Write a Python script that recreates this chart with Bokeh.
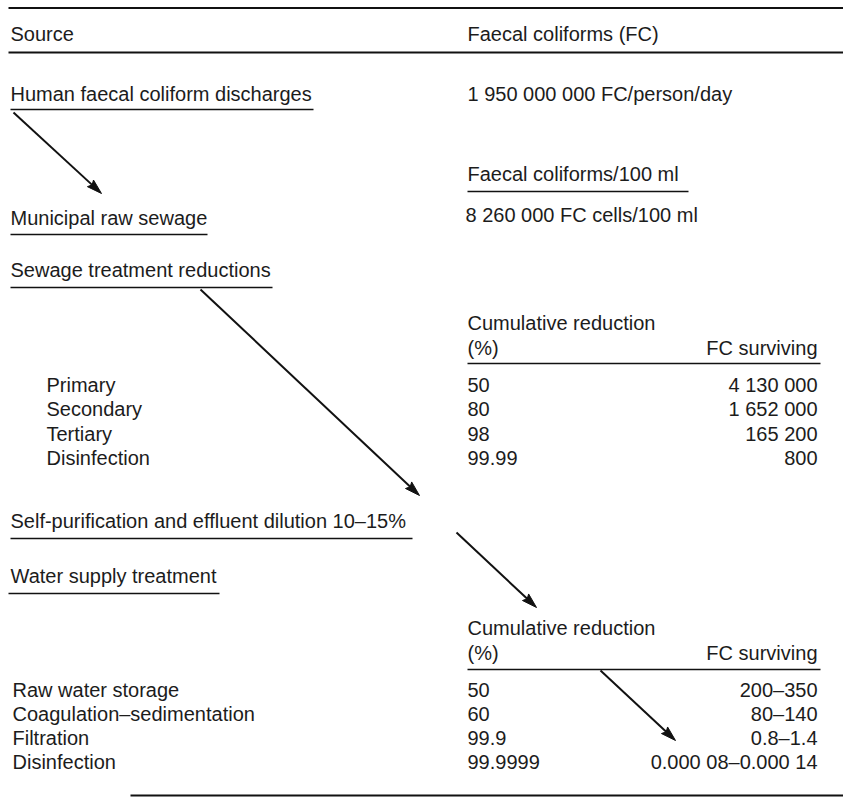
import math
from bokeh.plotting import figure
from bokeh.models import Range1d
from bokeh.core.properties import value
from bokeh.embed import file_html
from bokeh.resources import INLINE

# ---------------- data ----------------
header_labels = ["Source", "Faecal coliforms (FC)"]
source_label = "Human faecal coliform discharges"
source_value = "1 950 000 000 FC/person/day"
unit_label = "Faecal coliforms/100 ml"
sewage_label = "Municipal raw sewage"
sewage_value = "8 260 000 FC cells/100 ml"
sewage_treat_label = "Sewage treatment reductions"
col_head_left = ["Cumulative reduction", "(%)"]
col_head_right = "FC surviving"
sewage_stages = ["Primary", "Secondary", "Tertiary", "Disinfection"]
sewage_reduction = ["50", "80", "98", "99.99"]
sewage_surviving = ["4 130 000", "1 652 000", "165 200", "800"]
dilution_label = "Self-purification and effluent dilution 10\u201315%"
water_label = "Water supply treatment"
water_stages = ["Raw water storage", "Coagulation\u2013sedimentation", "Filtration", "Disinfection"]
water_reduction = ["50", "60", "99.9", "99.9999"]
water_surviving = ["200\u2013350", "80\u2013140", "0.8\u20131.4", "0.000 08\u20130.000 14"]

# ---------------- layout ----------------
FONT = "Liberation Sans"
FS = "20px"
TC = "#1c1c1c"
XL, XIND, XW, XC2, XR = 10, 46, 12, 467, 817
sew_rows = [384, 408.5, 433, 457.5]
wat_rows = [689, 713, 737, 761]
W_PX, H_PX = 843, 799

p = figure(width=W_PX, height=H_PX, x_range=Range1d(0, W_PX), y_range=Range1d(H_PX, 0),
           output_backend="svg", toolbar_location=None, min_border=0,
           x_axis_location=None, y_axis_location=None, title=None)
p.grid.visible = False
p.outline_line_color = None
p.background_fill_color = "white"
p.border_fill_color = "white"


def txt(xs, ys, texts, align="left"):
    p.text(x=xs, y=ys, text=texts, text_font=value(FONT), text_font_size=FS,
           text_baseline="middle", text_align=align, text_color=TC)


# left-aligned texts
txt([XL, XC2], [33, 33], header_labels)
txt([XL, XC2], [93, 93], [source_label, source_value])
txt([XC2], [173], [unit_label])
txt([XL, XC2 - 2], [217, 214], [sewage_label, sewage_value])
txt([XL], [269], [sewage_treat_label])
txt([XC2, XC2], [322, 347], col_head_left)
txt([XR], [347], [col_head_right], align="right")
txt([XIND] * 4, sew_rows, sewage_stages)
txt([XC2] * 4, sew_rows, sewage_reduction)
txt([XR] * 4, sew_rows, sewage_surviving, align="right")
txt([XL], [520], [dilution_label])
txt([XL], [575], [water_label])
txt([XC2, XC2], [627, 652], col_head_left)
txt([XR], [652], [col_head_right], align="right")
txt([XW] * 4, wat_rows, water_stages)
txt([XC2] * 4, wat_rows, water_reduction)
txt([XR] * 4, wat_rows, water_surviving, align="right")

# rules
thick = dict(x0=[8, 8, 130], x1=[843, 843, 843], y0=[7.5, 52, 795], y1=[7.5, 52, 795])
p.segment(**thick, line_color="#111111", line_width=2)
thin_x0 = [10, 467, 10, 10, 467, 10, 8, 467]
thin_x1 = [313, 688, 207, 272, 820, 412, 219, 820]
thin_y = [109, 191, 234, 287, 363, 538, 593, 669]
p.segment(x0=thin_x0, x1=thin_x1, y0=thin_y, y1=thin_y, line_color="#111111", line_width=1.3)

# arrows
arrows = [(13, 112, 101, 193), (200, 289, 419, 495), (456, 532, 536, 607), (600, 670, 675, 740)]
L, W = 15, 4.5
lx0, ly0, lx1, ly1, hx, hy = [], [], [], [], [], []
for (x0, y0, x1, y1) in arrows:
    d = math.hypot(x1 - x0, y1 - y0)
    ux, uy = (x1 - x0) / d, (y1 - y0) / d
    bx, by = x1 - ux * L, y1 - uy * L
    lx0.append(x0); ly0.append(y0); lx1.append(bx + ux * 3); ly1.append(by + uy * 3)
    nx, ny = -uy, ux
    hx.append([x1, bx + nx * W, x1 - ux * L * 0.85, bx - nx * W])
    hy.append([y1, by + ny * W, y1 - uy * L * 0.85, by - ny * W])
p.segment(x0=lx0, y0=ly0, x1=lx1, y1=ly1, line_color="#111111", line_width=2)
p.patches(xs=hx, ys=hy, fill_color="#111111", line_color="#111111", line_width=1)

open("out.html", "w").write(file_html(p, INLINE))
